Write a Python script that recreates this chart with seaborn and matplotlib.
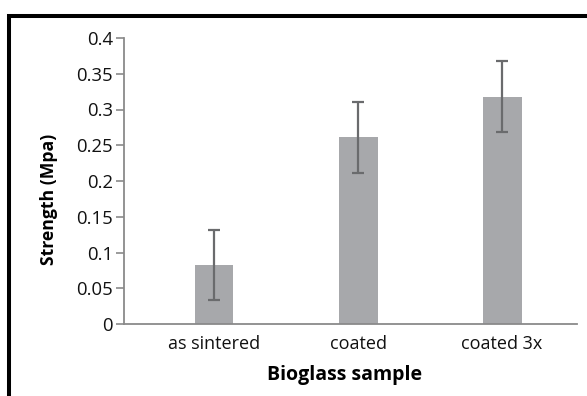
import numpy as np
import pandas as pd
import matplotlib
matplotlib.use("Agg")
import matplotlib.pyplot as plt
from matplotlib.lines import Line2D
import seaborn as sns

categories = ["as sintered", "coated", "coated 3x"]
strength = [0.082, 0.261, 0.318]
strength_err = [0.049, 0.050, 0.050]
y_ticks = [0, 0.05, 0.1, 0.15, 0.2, 0.25, 0.3, 0.35, 0.4]
y_tick_labels = ["0", "0.05", "0.1", "0.15", "0.2", "0.25", "0.3", "0.35", "0.4"]

sns.set_theme(style="white")
plt.rcParams["font.family"] = ["Open Sans", "DejaVu Sans"]

df = pd.DataFrame({"sample": categories, "strength": strength})

fig = plt.figure(figsize=(5.87, 3.96), dpi=100)
ax = fig.add_axes([124 / 587, 1 - 324 / 396, (577 - 124) / 587, (324 - 38) / 396])

sns.barplot(data=df, x="sample", y="strength", order=categories, color="#a7a8ab",
            saturation=1, width=0.27, errorbar=None, ax=ax, linewidth=0)
ax.errorbar(np.arange(len(categories)), strength, yerr=strength_err, fmt="none",
            ecolor="#6a6b6d", elinewidth=1.6, capsize=4, capthick=1.6)

ax.set_xlim(-0.625, 2.52)
ax.set_ylim(0, 0.4)
ax.set_yticks(y_ticks)
ax.set_yticklabels(y_tick_labels)
ax.tick_params(axis="y", direction="out", length=6, width=1.2, color="#8a8a8a",
               labelsize=13.3, pad=2, left=True)
ax.tick_params(axis="x", length=0, labelsize=13, pad=8)
for lab in ax.get_xticklabels() + ax.get_yticklabels():
    lab.set_color("#111111")

for s in ["top", "right"]:
    ax.spines[s].set_visible(False)
for s in ["left", "bottom"]:
    ax.spines[s].set_color("#8a8a8a")
    ax.spines[s].set_linewidth(1.3)

ax.set_xlabel("Bioglass sample", fontsize=14, fontweight="bold", color="#000000")
ax.xaxis.set_label_coords(0.486, -0.142)
ax.set_ylabel("Strength (Mpa)", fontsize=12.7, fontweight="bold", color="#000000")
ax.yaxis.set_label_coords(-0.145, 0.437)

# outer black frame (top and left visible)
frame = Line2D([8.5 / 587, 8.5 / 587, 1.0], [0.0, 1 - 15.5 / 396, 1 - 15.5 / 396],
               transform=fig.transFigure, color="black", linewidth=2.9,
               solid_joinstyle="miter")
fig.add_artist(frame)

fig.savefig("out.png", dpi=100)
